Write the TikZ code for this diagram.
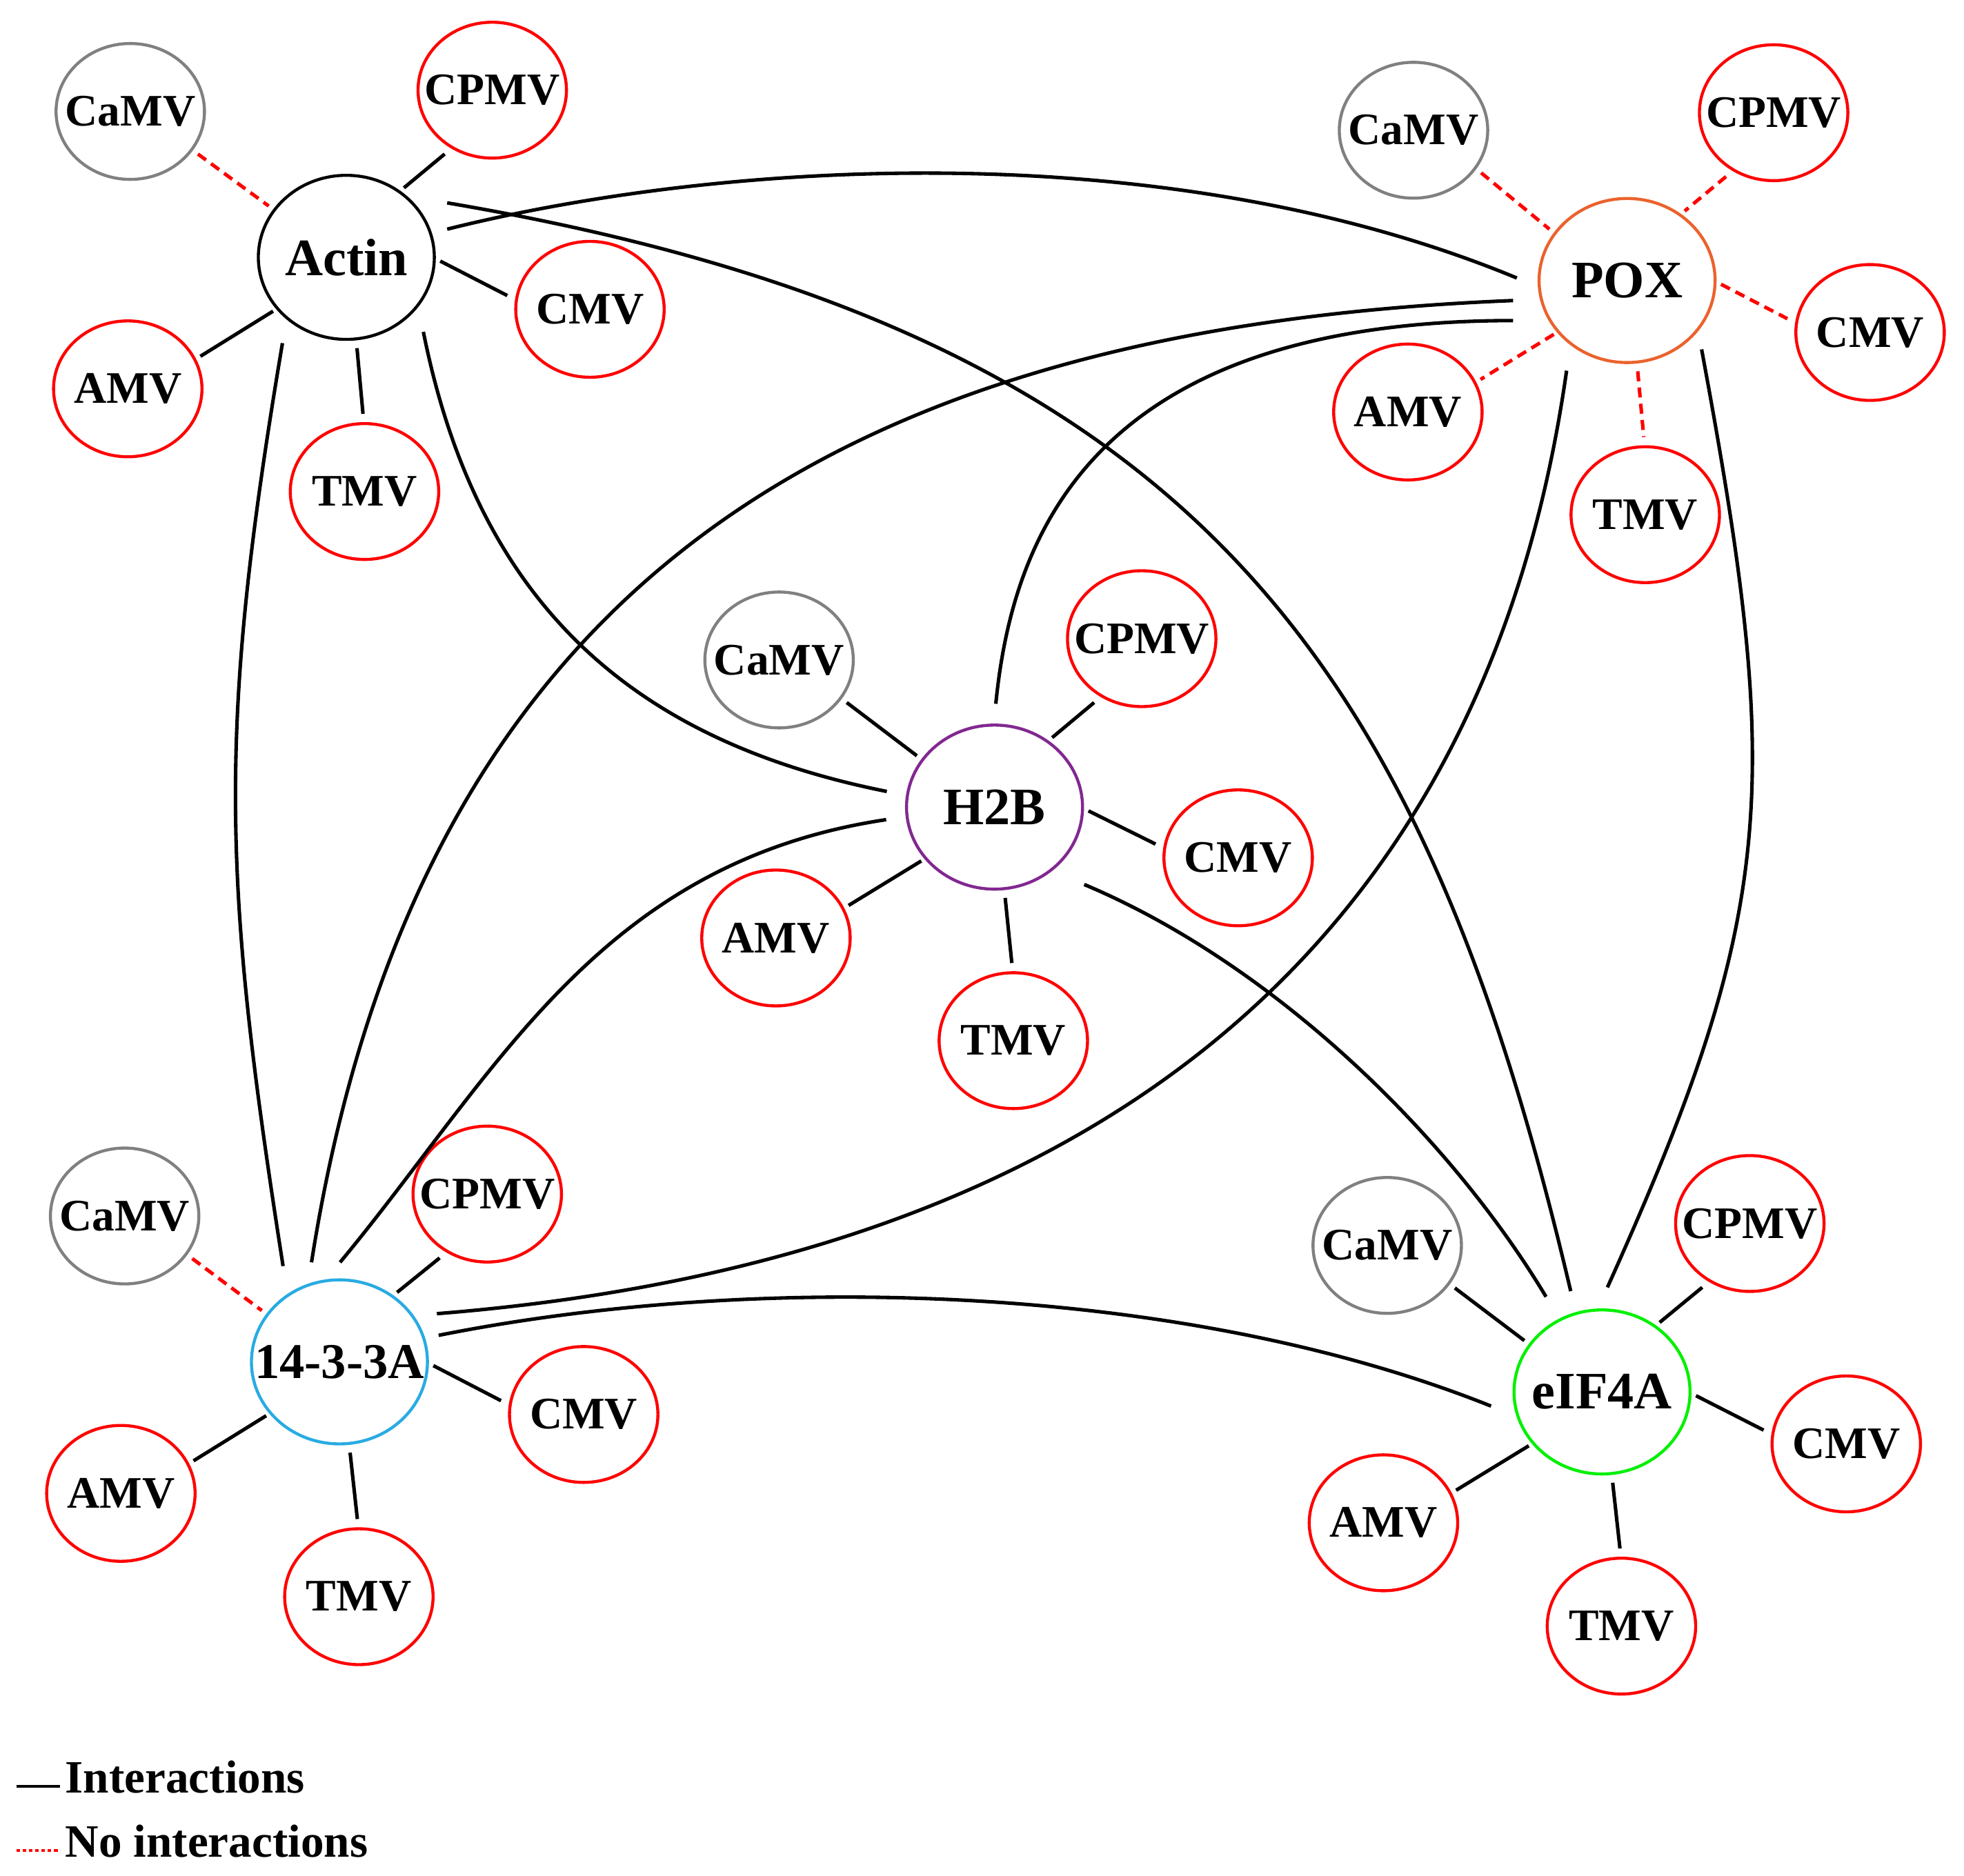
\documentclass[tikz,border=0pt]{standalone}
\usepackage{fontspec}
\setmainfont{Liberation Serif}
\usetikzlibrary{shapes.geometric}
\definecolor{cred}{RGB}{255,0,0}
\definecolor{cgray}{RGB}{128,128,128}
\definecolor{corange}{RGB}{235,98,45}
\definecolor{cpurple}{RGB}{130,40,145}
\definecolor{cblue}{RGB}{41,171,226}
\definecolor{cgreen}{RGB}{0,240,0}
\newcommand{\zw}[1]{\makebox[0pt]{#1}}
% spokes: #1 hub name; #2..#6 styles for CaMV, CPMV, CMV, AMV, TMV links
\newcommand{\spokes}[6]{%
  \draw[#2] ([shift={(54,34)}]#1-CaMV.center) -- ([shift={(-62,-41)}]#1.center);
  \draw[#3] ([shift={(-38,51)}]#1-CPMV.center) -- ([shift={(46,-55.5)}]#1.center);
  \draw[#4] ([shift={(75,3)}]#1.center) -- ([shift={(-66,-11)}]#1-CMV.center);
  \draw[#5] ([shift={(-58.5,43)}]#1.center) -- ([shift={(58,-26)}]#1-AMV.center);
  \draw[#6] ([shift={(8.5,72.5)}]#1.center) -- ([shift={(-1.2,-62)}]#1-TMV.center);
}
\begin{document}
\begin{tikzpicture}[x=1pt,y=-1pt,
  hub/.style={ellipse, draw, line width=2.4pt, minimum width=140.5pt, minimum height=131pt,
    inner sep=0pt, outer sep=0pt, font=\fontsize{42}{46}\selectfont\bfseries},
  sat/.style={ellipse, draw=cred, line width=2.4pt, minimum width=118.5pt, minimum height=108.5pt,
    inner sep=0pt, outer sep=0pt, font=\fontsize{36}{40}\selectfont\bfseries},
  satgray/.style={sat, draw=cgray},
  link/.style={line width=2.8pt, black},
  nolink/.style={line width=2.8pt, cred, dash pattern=on 8pt off 5pt},
  legtext/.style={anchor=base west, inner sep=0pt, font=\fontsize{37}{40}\selectfont\bfseries}
]
\useasboundingbox (0,0) rectangle (1568,1498);

% ---------- hubs ----------
\node[hub, draw=black] (A) at (276.5,205.5) {\zw{Actin}};
\node[hub, draw=corange] (P) at (1299,224) {\zw{POX}};
\node[hub, draw=cpurple] (H) at (794,644.5) {\zw{H2B}};
\node[hub, draw=cblue, font=\fontsize{40}{44}\selectfont\bfseries] (F) at (271,1087.5) {\zw{14-3-3A}};
\node[hub, draw=cgreen] (E) at (1279,1111.5) {\zw{eIF4A}};

% ---------- Actin satellites ----------
\node[satgray] (A-CaMV) at (104,89) {\zw{CaMV}};
\node[sat] (A-CPMV) at (393,72) {\zw{CPMV}};
\node[sat] (A-CMV) at (471,247) {\zw{CMV}};
\node[sat] (A-AMV) at (102,310.5) {\zw{AMV}};
\node[sat] (A-TMV) at (291,392.5) {\zw{TMV}};

% ---------- POX satellites ----------
\node[satgray] (P-CaMV) at (1128.5,104) {\zw{CaMV}};
\node[sat] (P-CPMV) at (1416,90) {\zw{CPMV}};
\node[sat] (P-CMV) at (1493,265.5) {\zw{CMV}};
\node[sat] (P-AMV) at (1124,329) {\zw{AMV}};
\node[sat] (P-TMV) at (1313.5,411) {\zw{TMV}};

% ---------- H2B satellites ----------
\node[satgray] (H-CaMV) at (622,527) {\zw{CaMV}};
\node[sat] (H-CPMV) at (911.5,510) {\zw{CPMV}};
\node[sat] (H-CMV) at (988.5,685) {\zw{CMV}};
\node[sat] (H-AMV) at (619.5,749) {\zw{AMV}};
\node[sat] (H-TMV) at (809,831) {\zw{TMV}};

% ---------- 14-3-3A satellites ----------
\node[satgray] (F-CaMV) at (99.5,971) {\zw{CaMV}};
\node[sat] (F-CPMV) at (389,953.5) {\zw{CPMV}};
\node[sat] (F-CMV) at (466,1129.5) {\zw{CMV}};
\node[sat] (F-AMV) at (96.5,1192.5) {\zw{AMV}};
\node[sat] (F-TMV) at (286.5,1275) {\zw{TMV}};

% ---------- eIF4A satellites ----------
\node[satgray] (E-CaMV) at (1107.5,994.5) {\zw{CaMV}};
\node[sat] (E-CPMV) at (1397,977) {\zw{CPMV}};
\node[sat] (E-CMV) at (1474,1153) {\zw{CMV}};
\node[sat] (E-AMV) at (1104.5,1216) {\zw{AMV}};
\node[sat] (E-TMV) at (1294.5,1298.5) {\zw{TMV}};

% ---------- spokes ----------
\spokes{A}{nolink}{link}{link}{link}{link}
\spokes{P}{nolink}{nolink}{nolink}{nolink}{nolink}
\spokes{H}{link}{link}{link}{link}{link}
\spokes{F}{nolink}{link}{link}{link}{link}
\spokes{E}{link}{link}{link}{link}{link}

% ---------- hub-to-hub curves ----------
\draw[link] ([shift={(80.5,-22.5)}]A.center) .. controls (577,128) and (931,106) .. ([shift={(-88,-2)}]P.center);
\draw[link] ([shift={(80.5,-43.5)}]A.center) .. controls (957,264) and (1136,531) .. ([shift={(-25,-80.5)}]E.center);
\draw[link] ([shift={(-51,68.5)}]A.center) .. controls (173.4,583) and (177.5,702) .. ([shift={(-45,-76.5)}]F.center);
\draw[link] ([shift={(61.5,59.5)}]A.center) .. controls (382,485) and (508,592) .. ([shift={(-86,-12.5)}]H.center);

\draw[link] ([shift={(-91,16)}]P.center) .. controls (668,261.6) and (333.5,468) .. ([shift={(-22.3,-79.5)}]F.center);
\draw[link] ([shift={(-91,32)}]P.center) .. controls (868,256) and (808,432) .. ([shift={(1,-82.5)}]H.center);
\draw[link] ([shift={(-48.3,72)}]P.center) .. controls (1185,760) and (868.8,1007.4) .. ([shift={(77.8,-38.5)}]F.center);
\draw[link] ([shift={(59.5,55)}]P.center) .. controls (1423.6,629) and (1418.3,728) .. ([shift={(4.3,-83.5)}]E.center);

\draw[link] ([shift={(-86.5,10)}]H.center) .. controls (477.5,689) and (396,858) .. ([shift={(0.5,-79.5)}]F.center);
\draw[link] ([shift={(71.6,61.8)}]H.center) .. controls (1015.6,769.3) and (1156.3,905.6) .. ([shift={(-44.7,-76)}]E.center);

\draw[link] ([shift={(79.2,-21.2)}]F.center) .. controls (600.2,1016.3) and (940.4,1022.8) .. ([shift={(-88.6,11.3)}]E.center);

% ---------- legend ----------
\coordinate (legA1) at (13,1426.5);
\coordinate (legA2) at (48,1426.5);
\coordinate (legB1) at (13,1477.5);
\coordinate (legB2) at (48,1477.5);
\draw[black, line width=2.4pt] (legA1) -- (legA2);
\draw[cred, line width=2.2pt, dash pattern=on 3pt off 2pt] (legB1) -- (legB2);
\node[legtext] (legAt) at (52,1431.6) {Interactions};
\node[legtext] (legBt) at (52,1483) {No interactions};
\end{tikzpicture}
\end{document}
